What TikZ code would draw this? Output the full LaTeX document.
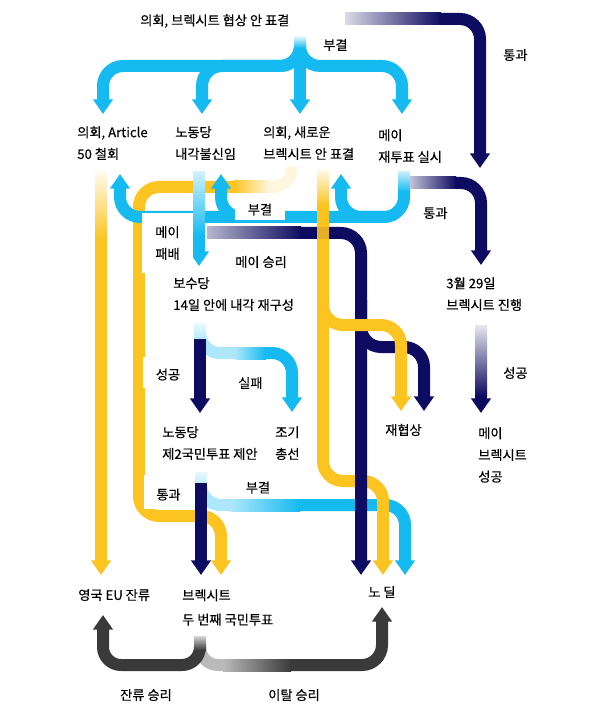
\documentclass[tikz,border=0pt]{standalone}
\usepackage{fontspec}
\setmainfont{Noto Sans CJK KR}[FakeBold=0.4]
\usetikzlibrary{arrows.meta}
\definecolor{fcyan}{RGB}{20,186,240}
\definecolor{fyel}{RGB}{252,196,32}
\definecolor{fnavy}{RGB}{14,12,96}
\definecolor{fgrey}{RGB}{58,58,58}
\begin{document}
\begin{tikzpicture}[x=0.75pt,y=-0.75pt,
  flow/.style={line width=9pt, rounded corners=15pt},
  tipped/.style={-{Triangle[width=14.5pt,length=11pt]}},
  txt/.style={inner sep=0pt, font=\fontsize{9.9pt}{16.3pt}\selectfont, align=left},
  one/.style={inner sep=0pt, font=\fontsize{9.9pt}{16.3pt}\selectfont},
  wbox/.style={one, fill=white, anchor=base}]
\fill[white] (0,0) rectangle (593,716);
\useasboundingbox (0,0) rectangle (593,716);

% yellow: new Brexit vote -> second referendum (left route)
\draw[flow, fyel!15] (292,168) -- (292,187) -- (268,187);
\shade[left color=fyel, right color=fyel!15] (234,181) rectangle (269,193);
\draw[flow, fyel, tipped] (235,187) -- (139,187) -- (139,516) -- (221,516) -- (221,575);

% yellow: Article 50 -> remain
\shade[top color=fyel!8, bottom color=fyel] (95,172) rectangle (107,240);
\draw[flow, fyel, tipped] (101,239) -- (101,575);

% cyan top tree
\draw[flow, fcyan, tipped] (300,47) -- (300,66) -- (103,66) -- (103,114);
\draw[flow, fcyan, tipped] (300,47) -- (300,66) -- (202,66) -- (202,114);
\draw[flow, fcyan, tipped] (300,47) -- (300,114);
\draw[flow, fcyan, tipped] (300,47) -- (300,66) -- (402,66) -- (402,114);
\shade[top color=white, bottom color=fcyan] (294,35) rectangle (306,48);

% navy top pass
\shade[left color=fnavy!15, right color=fnavy] (345,13) rectangle (441,25);
\draw[flow, fnavy, tipped] (440,19) -- (480,19) -- (480,168);

% cyan reject from May revote
\shade[top color=fcyan!25, bottom color=fcyan] (398,172) rectangle (410,192);
\draw[flow, fcyan, tipped] (404,191) -- (404,217) -- (120,217) -- (120,174);
\draw[flow, fcyan, tipped] (385,217) -- (341,217) -- (341,174);
\draw[flow, fcyan, tipped] (250,217) -- (221,217) -- (221,174);

% cyan May defeat
\shade[top color=fcyan!20, bottom color=fcyan] (193,172) rectangle (205,236);
\draw[line width=9pt, fcyan, tipped] (199,235) -- (199,266);

% navy pass from May revote
\shade[left color=fnavy!25, right color=fnavy] (410,177) rectangle (456,189);
\draw[flow, fnavy, tipped] (455,183) -- (481,183) -- (481,265);

% cyan reject from second referendum proposal
\draw[flow, fcyan!35] (201,489) -- (201,505) -- (232,505);
\shade[top color=fcyan!10, bottom color=fcyan!35] (195,472) rectangle (207,490);
\shade[left color=fcyan!35, right color=fcyan] (231,499) rectangle (300,511);
\draw[flow, fcyan, tipped] (299,505) -- (405,505) -- (405,575);

% yellow main
\shade[top color=fyel!10, bottom color=fyel] (317,170) rectangle (329,206);
\draw[flow, fyel, tipped] (323,205) -- (323,481) -- (383,481) -- (383,575);

% navy May win
\shade[left color=fnavy!30, right color=fnavy] (207,227) rectangle (301,239);
\draw[flow, fnavy, tipped] (300,233) -- (361,233) -- (361,575);
\draw[flow, fnavy, tipped] (361,300) -- (361,347) -- (424,347) -- (424,411);

% yellow over navy
\draw[line width=9pt, fyel, opacity=.9] (323,205) -- (323,330);
\draw[flow, fyel, tipped] (323,290) -- (323,325) -- (401,325) -- (401,411);

% cyan fail / navy success from Conservatives
\draw[flow, fcyan!35] (200,339) -- (200,353) -- (236,353);
\shade[top color=fcyan!8, bottom color=fcyan!35] (194,323) rectangle (206,341);
\shade[left color=fcyan!35, right color=fcyan] (235,347) rectangle (266,359);
\draw[flow, fcyan, tipped] (265,353) -- (292,353) -- (292,412);
\draw[line width=9pt, fnavy, tipped] (200,339) -- (200,413);

% navy pass -> second referendum
\draw[line width=9pt, fnavy, tipped] (201,483) -- (201,575);

% navy success from March 29
\shade[top color=fnavy!10, bottom color=fnavy] (475,325) rectangle (487,396);
\draw[line width=9pt, fnavy, tipped] (481,395) -- (481,413);

% grey bottom
\draw[flow, fgrey!35, rounded corners=13.5pt] (200,649) -- (200,665) -- (224,665);
\shade[left color=fgrey!35, right color=fgrey] (223,659) rectangle (291,671);
\draw[flow, fgrey, tipped] (290,665) -- (382,665) -- (382,607);
\draw[flow, fgrey, tipped, rounded corners=13.5pt] (200,649) -- (200,665) -- (103,665) -- (103,615);
\shade[top color=fgrey!20, bottom color=fgrey] (194,636) rectangle (206,650);

% texts
\node[one, anchor=west] (t0) at (140,21) {의회, 브렉시트 협상 안 표결};
\node[one, anchor=west] (lrej1) at (323,45) {부결};
\node[one, anchor=west] (lpass1) at (503,55) {통과};
\node[txt, anchor=north west] (n1) at (77,126) {의회, Article\\50 철회};
\node[txt, anchor=north west] (n2) at (175,126) {노동당\\내각불신임};
\node[txt, anchor=north west] (n3) at (263,126) {의회, 새로운\\브렉시트 안 표결};
\node[txt, anchor=north west] (n4) at (378,129) {메이\\재투표 실시};
\node[wbox, minimum width=37.5pt, text height=16.1pt, text depth=4.1pt] (lrej2) at (260,214.5) {부결};
\node[txt, fill=white, minimum width=38.25pt, minimum height=45pt] (llose) at (167.5,243) {메이\\패배};
\node[one, anchor=west] (lwin) at (235,262) {메이 승리};
\node[one, anchor=west] (lpass2) at (423,213) {통과};
\node[txt, anchor=north west] (n5) at (173,277) {보수당\\14일 안에 내각 재구성};
\node[txt, anchor=north west] (n6) at (446,277) {3월 29일\\브렉시트 진행};
\node[wbox, minimum width=37.5pt, text height=16.9pt, text depth=6.4pt] (lsucc1) at (168,379.5) {성공};
\node[one, anchor=west] (lfail) at (238,383) {실패};
\node[one, anchor=west] (lsucc2) at (503,373) {성공};
\node[txt, anchor=north west] (n7) at (162,426) {노동당\\제2국민투표 제안};
\node[txt, anchor=north west] (n8) at (275,426) {조기\\총선};
\node[one, anchor=west] (n9) at (385,430) {재협상};
\node[txt, anchor=north west] (n10) at (478,427) {메이\\브렉시트\\성공};
\node[wbox, minimum width=36.75pt, text height=18.4pt, text depth=7.1pt] (lpass3) at (168.5,499.5) {통과};
\node[wbox, minimum width=37.5pt, text height=14.6pt, text depth=3.4pt] (lrej3) at (258,492.5) {부결};
\node[one, anchor=west] (n11) at (78,595) {영국 EU 잔류};
\node[txt, anchor=north west] (n12) at (182,589) {브렉시트\\[2pt]두 번째 국민투표};
\node[one, anchor=west] (n13) at (368,592) {노 딜};
\node[one, anchor=west] (lremain) at (120,695) {잔류 승리};
\node[one, anchor=west] (lleave) at (268,695) {이탈 승리};
\end{tikzpicture}
\end{document}
